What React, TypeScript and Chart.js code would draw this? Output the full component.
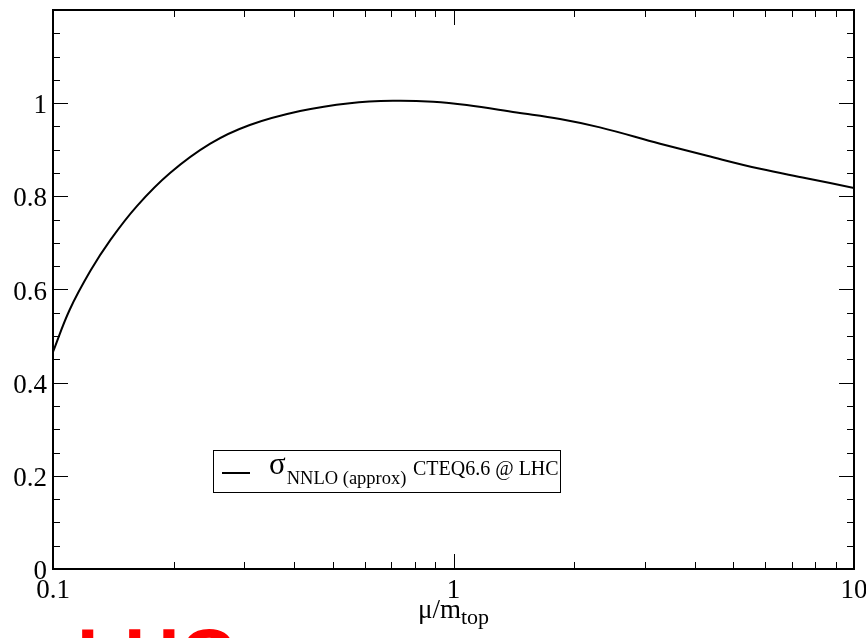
import React, { useEffect, useRef } from "react";
import { Chart, registerables } from "chart.js";

Chart.register(...registerables);

// ---- data ----
const muValues = [0.1, 0.11, 0.124, 0.139, 0.162, 0.196, 0.247, 0.31, 0.414, 0.551, 0.707, 0.89, 1.079, 1.438, 1.845, 2.32, 3.28, 4.3, 5.83, 7.6, 10];
const sigmaValues = [0.466, 0.556, 0.64, 0.706, 0.779, 0.85, 0.913, 0.953, 0.983, 1.0, 1.005, 1.003, 0.996, 0.98, 0.966, 0.948, 0.913, 0.887, 0.859, 0.839, 0.818];

const xTickValues = [0.1, 0.2, 0.3, 0.4, 0.5, 0.6, 0.7, 0.8, 0.9, 1, 2, 3, 4, 5, 6, 7, 8, 9, 10];
const xMajorTicks = [0.1, 1, 10];
const xTickLabels = ["0.1", "1", "10"];
const yTickValues = [0, 0.2, 0.4, 0.6, 0.8, 1, 1.2];
const yTickLabels = ["0", "0.2", "0.4", "0.6", "0.8", "1", ""];

const legendSymbol = "σ";
const legendSub = "NNLO (approx)";
const legendText = "CTEQ6.6 @ LHC";
const xTitleMain = "μ/m";
const xTitleSub = "top";
const overlayText = "LHC";

const SERIF = "'Liberation Serif', 'Times New Roman', serif";

const decorPlugin = {
  id: "decor",
  afterDraw(chart: any) {
    const { ctx, chartArea, scales } = chart;
    const { left, right, top, bottom } = chartArea;
    const x = scales.x;
    const y = scales.y;
    ctx.save();
    // ticks
    ctx.strokeStyle = "#000";
    ctx.lineWidth = 1;
    ctx.beginPath();
    xTickValues.forEach((v) => {
      const len = xMajorTicks.includes(v) ? 15 : 7;
      const px = Math.round(x.getPixelForValue(v)) + 0.5;
      ctx.moveTo(px, bottom);
      ctx.lineTo(px, bottom - len);
      ctx.moveTo(px, top);
      ctx.lineTo(px, top + len);
    });
    for (let i = 0; i <= 24; i++) {
      const v = i * 0.05;
      const len = i % 4 === 0 ? 15 : 7;
      const py = Math.round(y.getPixelForValue(v)) + 0.5;
      ctx.moveTo(left, py);
      ctx.lineTo(left + len, py);
      ctx.moveTo(right, py);
      ctx.lineTo(right - len, py);
    }
    ctx.stroke();
    // frame
    ctx.lineWidth = 2;
    ctx.strokeRect(left, top, right - left, bottom - top);

    // legend
    ctx.lineWidth = 1;
    ctx.strokeRect(213.5, 450.5, 347, 42);
    ctx.lineWidth = 2;
    ctx.beginPath();
    ctx.moveTo(222, 473);
    ctx.lineTo(250, 473);
    ctx.stroke();
    ctx.fillStyle = "#000";
    ctx.textAlign = "left";
    ctx.textBaseline = "alphabetic";
    ctx.font = `31px ${SERIF}`;
    ctx.fillText(legendSymbol, 269, 474);
    const sw = ctx.measureText(legendSymbol).width;
    ctx.font = `18.5px ${SERIF}`;
    ctx.fillText(legendSub, 269 + sw + 1, 484);
    ctx.font = `20px ${SERIF}`;
    ctx.fillText(legendText, 413, 475);

    // x axis title
    ctx.font = `27px ${SERIF}`;
    const mw = ctx.measureText(xTitleMain).width;
    ctx.font = `22px ${SERIF}`;
    const tw = ctx.measureText(xTitleSub).width;
    const cx = (left + right) / 2;
    const x0 = cx - (mw + tw) / 2;
    ctx.font = `27px ${SERIF}`;
    ctx.fillText(xTitleMain, x0, 618);
    ctx.font = `22px ${SERIF}`;
    ctx.fillText(xTitleSub, x0 + mw, 624);

    // overlay
    ctx.fillStyle = "#ff0000";
    ctx.font = "bold 77px 'Liberation Sans', Arial, sans-serif";
    ctx.fillText(overlayText, 77, 683);
    ctx.restore();
  },
};

export default function App() {
  const ref = useRef<HTMLCanvasElement>(null);
  useEffect(() => {
    document.body.style.margin = "0";
    document.body.style.overflow = "hidden";
    const canvas = ref.current!;
    const chart = new Chart(canvas, {
      type: "line",
      data: {
        datasets: [
          {
            label: legendSymbol + legendSub + " " + legendText,
            data: muValues.map((m, i) => ({ x: m, y: sigmaValues[i] })),
            borderColor: "#000",
            borderWidth: 2,
            pointRadius: 0,
            fill: false,
            tension: 0.4,
          },
        ],
      },
      options: {
        animation: false,
        responsive: false,
        devicePixelRatio: 1,
        layout: { padding: { left: 0, top: 10, right: 12, bottom: 0 } },
        plugins: { legend: { display: false }, tooltip: { enabled: false } },
        scales: {
          x: {
            type: "logarithmic",
            min: 0.1,
            max: 10,
            grid: { display: false, drawTicks: false },
            border: { display: false },
            afterBuildTicks: (s: any) => {
              s.ticks = xTickValues.map((v) => ({ value: v, major: xMajorTicks.includes(v) }));
            },
            afterFit: (s: any) => {
              s.paddingLeft = 0;
              s.paddingRight = 0;
              s.height = 69;
            },
            ticks: {
              autoSkip: false,
              maxRotation: 0,
              padding: 6,
              color: "#000",
              font: { family: SERIF, size: 27 },
              callback: (v: any) => {
                const idx = xMajorTicks.indexOf(Number(v));
                return idx >= 0 ? xTickLabels[idx] : "";
              },
            },
          },
          y: {
            type: "linear",
            min: 0,
            max: 1.2,
            grid: { display: false, drawTicks: false },
            border: { display: false },
            afterBuildTicks: (s: any) => {
              s.ticks = yTickValues.map((v) => ({ value: v }));
            },
            afterFit: (s: any) => {
              s.paddingTop = 0;
              s.paddingBottom = 0;
              s.width = 53;
            },
            ticks: {
              autoSkip: false,
              padding: 6,
              labelOffset: 3,
              color: "#000",
              font: { family: SERIF, size: 27 },
              callback: (v: any) => {
                const idx = yTickValues.findIndex((t) => Math.abs(t - Number(v)) < 1e-6);
                return idx >= 0 ? yTickLabels[idx] : "";
              },
            },
          },
        },
      },
      plugins: [decorPlugin],
    });
    return () => chart.destroy();
  }, []);
  return (
    <div style={{ width: 866, height: 638, overflow: "hidden", background: "#fff" }}>
      <canvas ref={ref} width={866} height={638} style={{ display: "block" }} />
    </div>
  );
}
